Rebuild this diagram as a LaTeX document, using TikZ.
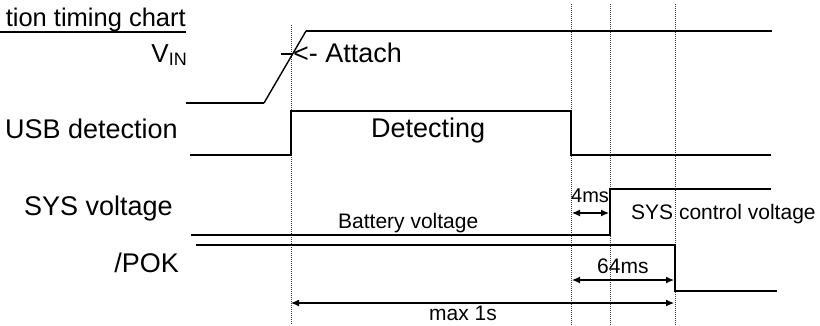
\documentclass[tikz,border=0pt]{standalone}
\usepackage{fontspec}
\setmainfont{Liberation Sans}
\usetikzlibrary{arrows.meta}
\begin{document}
\begin{tikzpicture}[x=1pt,y=-1pt,
  sig/.style={line width=2.5pt},
  slant/.style={line width=1.4pt},
  guide/.style={line width=0.8pt, dash pattern=on 1pt off 1pt, black!75},
  dim/.style={line width=1.2pt, {Latex[length=8pt,width=7pt]}-{Latex[length=8pt,width=7pt]}},
  big/.style={font=\fontsize{27}{31}\selectfont, inner sep=0pt},
  small/.style={font=\fontsize{21}{25}\selectfont, inner sep=0pt},
  tiny/.style={font=\fontsize{20}{24}\selectfont, inner sep=0pt}]
\useasboundingbox (0,0) rectangle (820,325);

% guide lines
\coordinate (g0t) at (291,25);  \coordinate (g0b) at (291,325);
\coordinate (g1t) at (571,4);   \coordinate (g1b) at (571,325);
\coordinate (g2t) at (610,4);   \coordinate (g2b) at (610,325);
\coordinate (g3t) at (675,4);   \coordinate (g3b) at (675,325);
\draw[guide] (g0t) -- (g0b);
\draw[guide] (g1t) -- (g1b);
\draw[guide] (g2t) -- (g2b);
\draw[guide] (g3t) -- (g3b);

% title
\node[inner sep=0pt, font=\fontsize{25.5}{30}\selectfont, anchor=base east] (title) at (186,26) {tion timing chart};
\draw[line width=1.5pt] (0,32) -- (186,32);

% VIN
\node[anchor=base east, inner sep=0pt] (vin) at (187,62)
  {\fontsize{26}{30}\selectfont V\raisebox{-3pt}{\fontsize{18}{21}\selectfont IN}};
\coordinate (v0) at (186,103);
\coordinate (v1) at (264,103);
\coordinate (v2) at (306,31);
\coordinate (v3) at (772,31);
\draw[sig] (v0) -- (v1);
\draw[slant] (v1) -- (v2);
\draw[sig] (v2) -- (v3);
\coordinate (tk0) at (281,54);
\coordinate (tk1) at (293,54);
\draw[sig] (tk0) -- (tk1);
\node[big, anchor=base west] (attach) at (293,62) {<- Attach};

% USB detection
\node[big, anchor=base east] (usb) at (178,138) {USB detection};
\draw[sig] (190,155) -- (291,155) -- (291,111) -- (571,111) -- (571,155) -- (771,155);
\node[big, anchor=base west] (det) at (371,137) {Detecting};

% SYS voltage
\node[big, anchor=base east] (sys) at (173,215) {SYS voltage};
\draw[sig] (191,235) -- (610,235) -- (610,189) -- (771,189);
\node[small, anchor=base west] (bat) at (338,228) {Battery voltage};
\node[small, anchor=base west] (sysc) at (631,219) {SYS control voltage};
\node[tiny, anchor=base west] (t4) at (571,202) {4ms};
\coordinate (a4l) at (572,213);
\coordinate (a4r) at (609,213);
\draw[dim] (a4l) -- (a4r);

% /POK
\node[big, anchor=base east] (pok) at (179,272) {/POK};
\draw[sig] (196,245) -- (675,245) -- (675,291) -- (777,291);
\node[small, anchor=base west] (t64) at (597,273) {64ms};
\coordinate (a64l) at (572,280);
\coordinate (a64r) at (674,280);
\draw[dim] (a64l) -- (a64r);

% max 1s
\coordinate (m1l) at (291,303);
\coordinate (m1r) at (674,303);
\draw[dim] (m1l) -- (m1r);
\node[small, anchor=base west] (max) at (429,320) {max 1s};
\end{tikzpicture}
\end{document}
